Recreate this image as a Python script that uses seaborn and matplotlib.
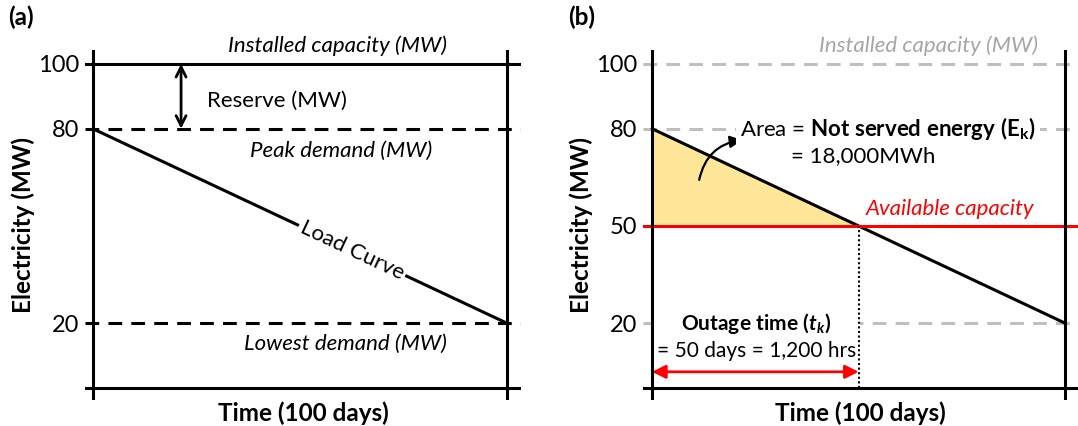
import matplotlib.pyplot as plt
import seaborn as sns

# chart values
time_days = [0, 100]
load_mw = [80, 20]
installed_mw = 100
peak_mw = 80
lowest_mw = 20
available_mw = 50
outage_days = 50
yticks_a = [100, 80, 20]
yticks_b = [100, 80, 50, 20]

sns.set_theme(style="white")
plt.rcParams['font.family'] = ['Lato', 'DejaVu Sans']
plt.rcParams['mathtext.fontset'] = 'custom'
plt.rcParams['mathtext.rm'] = 'Lato'
plt.rcParams['mathtext.it'] = 'Lato:italic'
plt.rcParams['mathtext.bf'] = 'Lato:bold'
plt.rcParams['mathtext.bfit'] = 'Lato:bold:italic'
plt.rcParams['text.color'] = 'black'
plt.rcParams['axes.labelcolor'] = 'black'
plt.rcParams['ytick.color'] = 'black'

W, H = 1078, 426
fig = plt.figure(figsize=(W / 100, H / 100), dpi=100)


def px_axes(x0, x1, y0, y1):
    return fig.add_axes([x0 / W, 1 - y1 / H, (x1 - x0) / W, (y1 - y0) / H])


ax_a = px_axes(85, 521, 50, 400)
ax_b = px_axes(643, 1078, 50, 400)

LW = 2.2
FS = 16
FSB = 17.5
GRAY = '#BFBFBF'
RED = '#FF0000'

for ax, ticks, xl in [(ax_a, yticks_a, (-1.9, 103.4)), (ax_b, yticks_b, (-2.2, 103.1))]:
    for s in ax.spines.values():
        s.set_visible(False)
    ax.set_xlim(*xl)
    ax.set_ylim(-3.7, 104.3)
    ax.set_xticks([])
    ax.set_yticks(ticks)
    ax.tick_params(axis='y', length=0, pad=4, labelsize=FS + 1)
    ax.set_ylabel("Electricity (MW)", fontsize=FSB, fontweight='bold', labelpad=2)
    ax.set_xlabel("Time (100 days)", fontsize=FSB, fontweight='bold', labelpad=1)
    ax.axvline(time_days[0], color='black', lw=LW, zorder=8)
    ax.axvline(time_days[-1], color='black', lw=LW, zorder=8)
    ax.axhline(0, color='black', lw=LW, zorder=8)
    sns.lineplot(x=time_days, y=load_mw, ax=ax, color='black', lw=LW, zorder=4)

# ---- panel (a)
ax_a.axhline(installed_mw, color='black', lw=LW)
ax_a.axhline(peak_mw, color='black', lw=LW, ls=(0, (4.5, 3)))
ax_a.axhline(lowest_mw, color='black', lw=LW, ls=(0, (4.5, 3)))
ax_a.annotate('', xy=(21.3, installed_mw), xytext=(21.3, peak_mw),
              arrowprops=dict(arrowstyle='<->', color='black', lw=2,
                              mutation_scale=18, shrinkA=0, shrinkB=0))
ax_a.text(27.5, 88.6, "Reserve (MW)", fontsize=FS, va='center', ha='left')
ax_a.text(59, 105.6, "Installed capacity (MW)", fontsize=FS, style='italic',
          ha='center', va='center')
ax_a.text(60, 73.3, "Peak demand (MW)", fontsize=FS, style='italic',
          ha='center', va='center')
ax_a.text(61, 13.6, "Lowest demand (MW)", fontsize=FS, style='italic',
          ha='center', va='center')
ax_a.text(62.6, 42.4, "Load Curve", fontsize=FS, rotation=-25.2,
          rotation_mode='anchor', ha='center', va='center', zorder=5,
          bbox=dict(facecolor='white', edgecolor='none', pad=2))

# ---- panel (b)
dash = (0, (4.5, 3))
for y in [installed_mw, peak_mw, lowest_mw]:
    ax_b.axhline(y, color=GRAY, lw=LW, ls=dash, zorder=1)
ax_b.fill_between(time_days, load_mw, available_mw,
                  where=[v > available_mw for v in load_mw],
                  interpolate=True, color='#FFE699', lw=0, zorder=2)
ax_b.axhline(available_mw, color=RED, lw=LW, zorder=5)
ax_b.vlines(outage_days, 0, available_mw, colors='black', lw=1.5,
            linestyles=(0, (1, 1.2)), zorder=7)
ax_b.annotate('', xy=(outage_days, 5), xytext=(0, 5),
              arrowprops=dict(arrowstyle='<|-|>', color=RED, lw=2,
                              mutation_scale=20, shrinkA=0, shrinkB=0))
ax_b.annotate('', xy=(21.8, 76.5), xytext=(11.4, 64.2),
              arrowprops=dict(arrowstyle='-|>', color='black', lw=1.6,
                              mutation_scale=18, shrinkA=0, shrinkB=0,
                              connectionstyle='arc3,rad=-0.35'), zorder=6)
ax_b.text(66.8, 105.6, "Installed capacity (MW)", fontsize=FS, style='italic',
          color='#A6A6A6', ha='center', va='center')
ax_b.text(57.1, 80, r"Area = $\mathbf{Not\ served\ energy\ (E_k)}$", fontsize=FS,
          ha='center', va='center', zorder=6,
          bbox=dict(facecolor='white', edgecolor='none', pad=3))
ax_b.text(51, 71.6, "= 18,000MWh", fontsize=FS, ha='center', va='center')
ax_b.text(72, 55.3, "Available capacity", fontsize=FS, style='italic',
          color=RED, ha='center', va='center')
ax_b.text(25.2, 16, r"$\mathbf{Outage\ time\ (}\mathbfit{t_k}\mathbf{)}$" + "\n= 50 days = 1,200 hrs",
          fontsize=FS - 1, ha='center', va='center', multialignment='center',
          linespacing=1.3, zorder=6,
          bbox=dict(facecolor='white', edgecolor='none', pad=3))

fig.text(8 / W, 1 - 17 / H, "(a)", fontsize=FSB, fontweight='bold', va='center')
fig.text(568 / W, 1 - 17 / H, "(b)", fontsize=FSB, fontweight='bold', va='center')

fig.savefig("out.png", dpi=100)
